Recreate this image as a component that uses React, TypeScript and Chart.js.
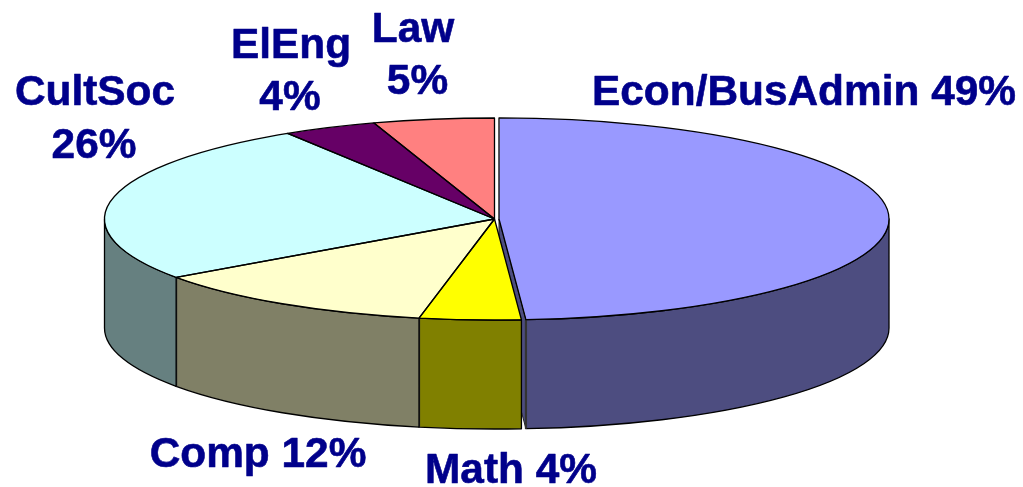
import React, { useEffect, useRef } from "react";
import { Chart, registerables } from "chart.js";

Chart.register(...registerables);

const categories = ["Econ/BusAdmin", "Math", "Comp", "CultSoc", "ElEng", "Law"];
const shares = [48.9, 4.2, 12.1, 25.9, 3.9, 5.0];
const topColors = ["#9999FF", "#FFFF00", "#FFFFCC", "#CCFFFF", "#660066", "#FF8080"];
const wallColors = ["#4D4D80", "#808000", "#808066", "#668080", "#330033", "#804040"];
const sliceOffsets = [11, 0, 0, 0, 0, 0];

const labelTexts = ["Econ/BusAdmin 49%", "Math 4%", "Comp 12%", "CultSoc", "26%", "ElEng", "4%", "Law", "5%"];
const labelXs = [804, 511, 258, 95, 94, 291, 290, 413, 417.5];
const labelYs = [105, 483, 467, 105, 158, 58, 110, 42, 94];

const CENTER_X = 494.5;
const CENTER_Y = 219;
const RADIUS_X = 390;
const RADIUS_Y = 101;
const DEPTH = 109;
const INK = "#00008B";

function geometry(chart: any, arc: any, i: number) {
  const p = arc.getProps(["startAngle", "endAngle", "outerRadius"], true);
  const sx = RADIUS_X / p.outerRadius;
  const sy = RADIUS_Y / p.outerRadius;
  const off = (sliceOffsets[i] || 0) / 4;
  const mid = (p.startAngle + p.endAngle) / 2;
  return {
    a0: p.startAngle,
    a1: p.endAngle,
    cx: CENTER_X + Math.cos(mid) * off * sx,
    cy: CENTER_Y + Math.sin(mid) * off * sy,
    sx,
    sy,
    outer: p.outerRadius,
  };
}

const pie3d = {
  id: "pie3d",
  beforeDatasetDraw(chart: any) {
    const { ctx } = chart;
    const arcs = chart.getDatasetMeta(0).data;
    ctx.save();
    ctx.lineJoin = "round";
    // Cut face of the exploded slice, seen through the gap it leaves
    const g0 = geometry(chart, arcs[0], 0);
    const ex = g0.cx + Math.cos(g0.a1) * RADIUS_X;
    const ey = g0.cy + Math.sin(g0.a1) * RADIUS_Y;
    ctx.beginPath();
    ctx.moveTo(g0.cx, g0.cy);
    ctx.lineTo(ex, ey);
    ctx.lineTo(ex, ey + DEPTH);
    ctx.lineTo(g0.cx, g0.cy + DEPTH);
    ctx.closePath();
    ctx.fillStyle = wallColors[0];
    ctx.fill();
    ctx.strokeStyle = "#222";
    ctx.lineWidth = 1;
    ctx.stroke();
    // Outer walls
    arcs.forEach((arc: any, i: number) => {
      const g = geometry(chart, arc, i);
      const a0 = Math.max(g.a0, 0);
      const a1 = Math.min(g.a1, Math.PI);
      if (a1 <= a0) return;
      ctx.beginPath();
      ctx.ellipse(g.cx, g.cy, RADIUS_X, RADIUS_Y, 0, a0, a1);
      ctx.ellipse(g.cx, g.cy + DEPTH, RADIUS_X, RADIUS_Y, 0, a1, a0, true);
      ctx.closePath();
      ctx.fillStyle = wallColors[i];
      ctx.fill();
      ctx.strokeStyle = "#000";
      ctx.lineWidth = 1.3;
      ctx.stroke();
      // Darker seam on the wall's left edge
      if (g.a1 < Math.PI) {
        const x = g.cx + Math.cos(a1) * RADIUS_X;
        const y = g.cy + Math.sin(a1) * RADIUS_Y;
        ctx.beginPath();
        ctx.moveTo(x, y);
        ctx.lineTo(x, y + DEPTH);
        ctx.strokeStyle = "#333";
        ctx.lineWidth = 2.2;
        ctx.stroke();
      }
    });
    ctx.restore();
    // Squash the library's own arcs into the ellipse of the top face.
    // The library grows an offset arc's radius, so trim the fill to the true outline.
    const g = geometry(chart, arcs[1], 1);
    const a = arcs[1].getProps(["x", "y"], true);
    ctx.save();
    ctx.beginPath();
    ctx.ellipse(CENTER_X, CENTER_Y, RADIUS_X, RADIUS_Y, 0, Math.PI / 2, (3 * Math.PI) / 2);
    ctx.ellipse(g0.cx, g0.cy, RADIUS_X, RADIUS_Y, 0, -Math.PI / 2, Math.PI / 2);
    ctx.closePath();
    ctx.clip();
    ctx.translate(CENTER_X, CENTER_Y);
    ctx.scale(g.sx, g.sy);
    ctx.translate(-a.x, -a.y);
  },
  afterDatasetDraw(chart: any) {
    const { ctx } = chart;
    ctx.restore();
    const arcs = chart.getDatasetMeta(0).data;
    ctx.save();
    ctx.lineJoin = "round";
    ctx.strokeStyle = "#000";
    ctx.lineWidth = 1.3;
    arcs.forEach((arc: any, i: number) => {
      const g = geometry(chart, arc, i);
      ctx.beginPath();
      ctx.moveTo(g.cx, g.cy);
      ctx.ellipse(g.cx, g.cy, RADIUS_X, RADIUS_Y, 0, g.a0, g.a1);
      ctx.closePath();
      ctx.stroke();
    });
    ctx.restore();
  },
  afterDraw(chart: any) {
    const { ctx } = chart;
    ctx.save();
    ctx.fillStyle = INK;
    ctx.strokeStyle = INK;
    ctx.lineWidth = 0.6;
    ctx.lineJoin = "round";
    ctx.font = 'bold 42.4px "Liberation Sans", Arial, sans-serif';
    ctx.textAlign = "center";
    ctx.textBaseline = "alphabetic";
    labelTexts.forEach((text, i) => {
      ctx.fillText(text, labelXs[i], labelYs[i]);
      ctx.strokeText(text, labelXs[i], labelYs[i]);
    });
    ctx.restore();
  },
};

export default function App() {
  const ref = useRef<HTMLCanvasElement>(null);
  useEffect(() => {
    document.body.style.margin = "0";
    document.body.style.background = "#fff";
    const chart = new Chart(ref.current as HTMLCanvasElement, {
      type: "pie",
      data: {
        labels: categories,
        datasets: [
          {
            data: shares,
            backgroundColor: topColors,
            borderWidth: 0,
            offset: sliceOffsets,
            clip: false,
          } as any,
        ],
      },
      options: {
        responsive: false,
        animation: false,
        layout: { padding: 0 },
        plugins: { legend: { display: false }, tooltip: { enabled: false }, title: { display: false } },
      },
      plugins: [pie3d],
    });
    return () => chart.destroy();
  }, []);
  return <canvas ref={ref} width={1023} height={487} style={{ display: "block" }} />;
}
